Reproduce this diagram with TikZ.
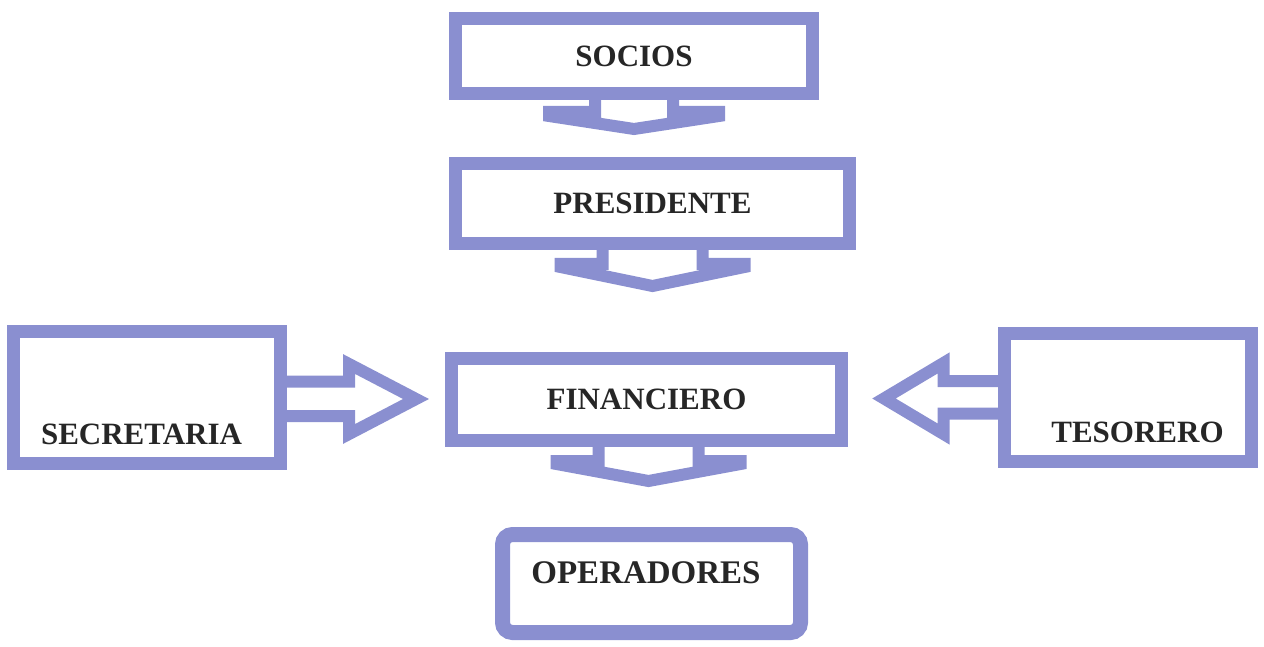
\documentclass[tikz,border=0pt]{standalone}
\usepackage{fontspec}
\setmainfont{Liberation Serif}
\definecolor{lila}{RGB}{138,143,208}
\tikzset{
  caja/.style={draw=lila, line width=13pt, outer sep=0pt, inner sep=0pt,
    font=\fontsize{31}{36}\selectfont\bfseries, text=black!85},
  texto/.style={inner sep=0pt, font=\fontsize{31}{36}\selectfont\bfseries, text=black!85},
  flecha/.style={draw=lila, line width=12pt, line join=miter},
}
\begin{document}
\begin{tikzpicture}[x=1pt, y=-1pt]
\useasboundingbox (0,0) rectangle (1264,647);
% cajas
\node[caja, minimum width=357pt, minimum height=75pt] (socios) at (634,56) {SOCIOS};
\node[caja, minimum width=394pt, minimum height=80pt] (presidente) at (652.5,203.5) {PRESIDENTE};
\node[caja, minimum width=390pt, minimum height=82pt] (financiero) at (646.5,399.5) {FINANCIERO};
\node[caja, minimum width=267pt, minimum height=132pt] (secretaria) at (147,397.5) {};
\node[caja, minimum width=247pt, minimum height=128pt] (tesorero) at (1128,397.5) {};
\node[caja, line width=15pt, rounded corners=10pt, minimum width=298pt, minimum height=98pt] (operadores) at (651.5,583.5) {};
\node[texto, anchor=base, font=\fontsize{33}{38}\selectfont\bfseries] (operadores-txt) at ([xshift=-5.5pt]operadores.center) {OPERADORES};
\node[texto, anchor=base] (secretaria-txt) at ([xshift=-5.5pt, yshift=19pt]secretaria.south) {SECRETARIA};
\node[texto, anchor=base] (tesorero-txt) at ([xshift=9.5pt, yshift=19.5pt]tesorero.south) {TESORERO};
% flechas hacia abajo
\draw[flecha] ([xshift=-39pt]socios.south) -- ++(0,18.5) -- ++(-46,0) -- ++(0,4)
  -- ++(85,13) -- ++(85,-13) -- ++(0,-4) -- ++(-46,0) -- ++(0,-18.5);
\draw[flecha] ([xshift=-50pt]presidente.south) -- ++(0,20.5) -- ++(-42,0) -- ++(0,3)
  -- ++(92,19) -- ++(92,-19) -- ++(0,-3) -- ++(-42,0) -- ++(0,-20.5);
\draw[flecha] ([xshift=-48pt]financiero.south) -- ++(0,20.5) -- ++(-42,0) -- ++(0,3)
  -- ++(92,17) -- ++(92,-17) -- ++(0,-3) -- ++(-42,0) -- ++(0,-20.5);
% flechas laterales
\draw[flecha] ([yshift=16pt]secretaria.east) -- ++(68.5,0) -- ++(0,-17.5)
  -- ++(67,35) -- ++(-67,35) -- ++(0,-18) -- ++(-68.5,0);
\draw[flecha] ([yshift=16.5pt]tesorero.west) -- ++(-61,0) -- ++(0,-18)
  -- ++(-59.5,35.5) -- ++(59.5,35.5) -- ++(0,-20.5) -- ++(61,0);
\end{tikzpicture}
\end{document}
